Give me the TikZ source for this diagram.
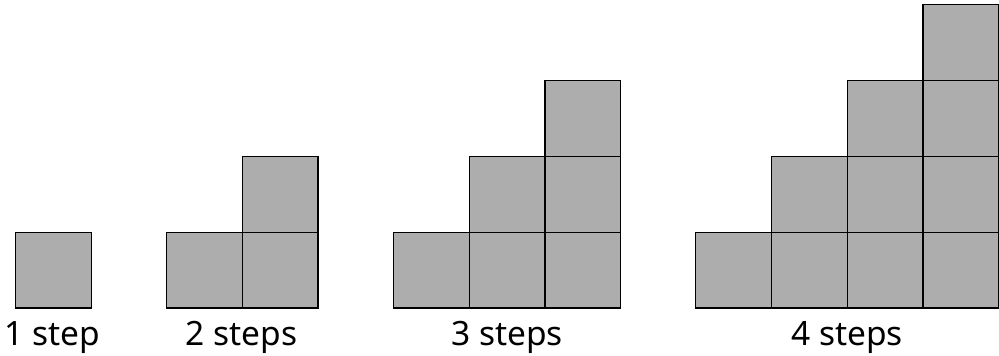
\documentclass[tikz,border=0pt]{standalone}
\usepackage{fontspec}
\setmainfont{Noto Sans}
\definecolor{cellgray}{RGB}{173,173,173}
\begin{document}
\begin{tikzpicture}[x=1pt,y=-1pt,
  cell/.style={draw=black,line width=1.3pt,fill=cellgray,minimum size=75.8pt,inner sep=0pt,outer sep=0pt},
  lbl/.style={anchor=base,inner sep=0pt,font=\fontsize{33.5}{40}\selectfont}]
\useasboundingbox (0,0) rectangle (999,356);
% 1 step
\node[cell] (a11) at (53.3,270.1) {};
% 2 steps
\node[cell] (b11) at (204.5,270.1) {};
\node[cell] (b21) at (280.2,270.1) {};
\node[cell] (b22) at (280.2,194.3) {};
% 3 steps
\node[cell] (c11) at (431.3,270.1) {};
\node[cell] (c21) at (507.1,270.1) {};
\node[cell] (c22) at (507.1,194.3) {};
\node[cell] (c31) at (582.9,270.1) {};
\node[cell] (c32) at (582.9,194.3) {};
\node[cell] (c33) at (582.9,118.5) {};
% 4 steps
\node[cell] (d11) at (733.5,270.1) {};
\node[cell] (d21) at (809.3,270.1) {};
\node[cell] (d22) at (809.3,194.3) {};
\node[cell] (d31) at (885.1,270.1) {};
\node[cell] (d32) at (885.1,194.3) {};
\node[cell] (d33) at (885.1,118.5) {};
\node[cell] (d41) at (960.9,270.1) {};
\node[cell] (d42) at (960.9,194.3) {};
\node[cell] (d43) at (960.9,118.5) {};
\node[cell] (d44) at (960.9,42.7) {};
% labels
\node[lbl] (l1) at (52.5,345) {1 step};
\node[lbl] (l2) at (241.5,345) {2 steps};
\node[lbl] (l3) at (507,345) {3 steps};
\node[lbl] (l4) at (847,345) {4 steps};
\end{tikzpicture}
\end{document}
